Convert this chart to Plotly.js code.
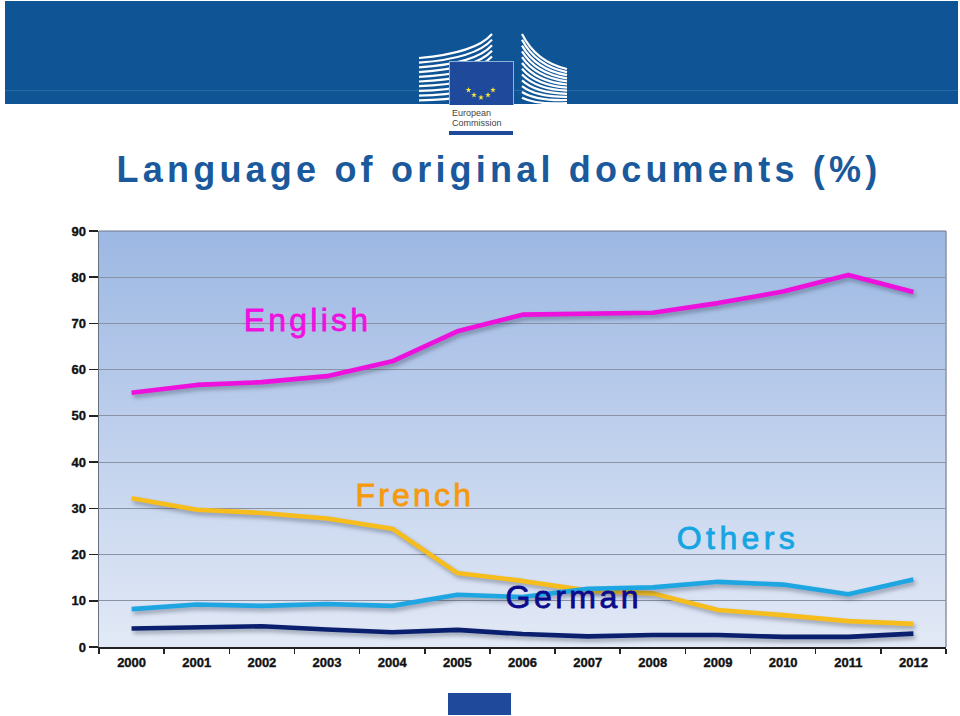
<!DOCTYPE html>
<html><head><meta charset="utf-8">
<script src="https://cdn.plot.ly/plotly-3.0.1.min.js"></script>
<style>html,body{margin:0;padding:0;background:#fff}#c{width:960px;height:716px}
.xtick text,.ytick text{stroke:#111;stroke-width:.35px}</style>
</head><body><div id="c"></div>
<script>
const years=['2000','2001','2002','2003','2004','2005','2006','2007','2008','2009','2010','2011','2012'];
const english=[55,56.7,57.3,58.6,61.8,68.3,71.9,72.2,72.3,74.4,76.9,80.5,76.8];
const french=[32.2,29.7,29,27.8,25.6,16,14.3,12.2,11.6,8,6.9,5.6,5];
const others=[8.2,9.2,8.9,9.3,8.9,11.3,10.8,12.6,12.9,14.1,13.5,11.4,14.6];
const german=[4,4.2,4.5,3.8,3.2,3.7,2.8,2.3,2.6,2.6,2.2,2.2,2.9];
const yTicks=[0,10,20,30,40,50,60,70,80,90];
const titleText='Language of original documents (%)';
const labels=[
 {text:'English',cx:307,cy:320,size:32,color:'#f010e0',sp:'3.2px'},
 {text:'French',cx:415,cy:495,size:32,color:'#f59a0c',sp:'3.2px'},
 {text:'Others',cx:738,cy:538,size:32,color:'#14a5e2',sp:'4.4px'},
 {text:'German',cx:574,cy:597,size:32,color:'#0a0a8c',sp:'3.5px'}
];
const L=99,R=946,T=231,B=647;
const px=x=>(x-L)/(R-L), py=y=>(B-y)/(B-T);
function rect(x0,y0,x1,y1,fill,layer){return {type:'rect',xref:'paper',yref:'paper',x0:px(x0),x1:px(x1),y0:py(y0),y1:py(y1),fillcolor:fill,line:{width:0},layer:layer||'below'};}
function curve(x0,y0,cx,cy,x1,y1,w){return {type:'path',xref:'paper',yref:'paper',layer:'below',
  path:`M ${px(x0)} ${py(y0)} Q ${px(cx)} ${py(cy)} ${px(x1)} ${py(y1)}`,line:{color:'#fff',width:w},fillcolor:'rgba(0,0,0,0)'};}
function star(cx,cy,r){let d='';for(let i=0;i<10;i++){const a=-Math.PI/2+i*Math.PI/5,q=i%2?r*0.4:r;
  d+=(i?'L ':'M ')+px(cx+q*Math.cos(a))+' '+py(cy+q*Math.sin(a))+' ';}
  return {type:'path',xref:'paper',yref:'paper',layer:'below',path:d+'Z',fillcolor:'#f4e23a',line:{width:0}};}
const shapes=[];
// header
shapes.push(rect(5,1,958,104,'#0f5596'));
shapes.push(rect(5,90,958,91,'#2a6aa3'));
// left building
for(let i=0;i<10;i++){
  const yl=58+i*4.7, yr=34+i*5.6;
  shapes.push(curve(419,yl,476,yl-5+i*0.5,492,yr,2.2));
}
// right building
for(let i=0;i<12;i++){
  const yr=69+i*3.1, yl=34+i*5.8;
  shapes.push(curve(522,yl,536,yl+28-i*1.9,567,yr,2.2));
}
shapes.push(rect(419,104,492,105,'#fff'));
// flag
shapes.push(rect(449,61,514,105,'#8fb2d6'));
shapes.push(rect(450,62,513,105,'#1f4a9c'));
[[468.5,90],[474,95],[481,97.5],[488,95],[493,90]].forEach(s=>shapes.push(star(s[0],s[1],3)));
shapes.push(rect(449,131,513,135,'#1f4a9c'));
shapes.push(rect(448,693,511,715,'#1f4a9c'));
// plot background gradient
const top_=[157,184,227], bot=[226,233,246], n=52;
for(let i=0;i<n;i++){
  const t=i/(n-1), c=top_.map((v,k)=>Math.round(v+(bot[k]-v)*t));
  const a=T+(B-T)*i/n, b=T+(B-T)*(i+1)/n+0.5;
  shapes.push(rect(L,a,R,b,`rgb(${c})`));
}
const line=(y,c)=>({x:years,y,type:'scatter',mode:'lines',line:{color:c,width:4.6,shape:'linear'},hoverinfo:'skip'});
const data=[line(english,'#ee10dc'),line(french,'#f6bd1c'),line(others,'#1ea6e2'),line(german,'#0a1f6e')];
const annotations=[
 {text:titleText,xref:'paper',yref:'paper',x:px(499),y:py(169),xanchor:'center',yanchor:'middle',showarrow:false,
  font:{family:'Liberation Sans',size:36,color:'#1a5a9c',weight:700}},
 {text:'European',xref:'paper',yref:'paper',x:px(450),y:py(113),xanchor:'left',yanchor:'middle',showarrow:false,font:{family:'Liberation Sans',size:9,color:'#444'}},
 {text:'Commission',xref:'paper',yref:'paper',x:px(450),y:py(123),xanchor:'left',yanchor:'middle',showarrow:false,font:{family:'Liberation Sans',size:9,color:'#444'}}
];
labels.forEach(l=>annotations.push({text:l.text,xref:'paper',yref:'paper',x:px(l.cx),y:py(l.cy),xanchor:'center',yanchor:'middle',showarrow:false,font:{family:'Liberation Sans',size:l.size,color:l.color}}));
const layout={width:960,height:716,showlegend:false,paper_bgcolor:'#fff',plot_bgcolor:'rgba(0,0,0,0)',
 margin:{l:L,r:960-R,t:T,b:716-B,pad:0},shapes,annotations,
 font:{family:'Liberation Sans',size:13,color:'#111'},
 xaxis:{type:'category',range:[-0.5,12.5],tickmode:'array',tickvals:years,ticktext:years,tickson:'boundaries',ticks:'outside',ticklen:5,tickwidth:1.5,tickcolor:'#222',ticklabelstandoff:2,
   showline:true,linecolor:'#222',linewidth:2,showgrid:false,tickfont:{family:'Liberation Sans',size:13,color:'#111',weight:700},automargin:false},
 yaxis:{range:[0,90],tickmode:'array',tickvals:yTicks,ticks:'outside',ticklen:9,tickwidth:1.5,tickcolor:'#222',
   showline:true,linecolor:'#66707f',linewidth:1.5,showgrid:true,gridcolor:'#8a93a3',gridwidth:1,zeroline:false,mirror:false,
   tickfont:{family:'Liberation Sans',size:13,color:'#111',weight:700},automargin:false}
};
// frame lines on right and top
shapes.push({type:'line',xref:'paper',yref:'paper',x0:1,x1:1,y0:0,y1:1,line:{color:'#8a93a3',width:1.5},layer:'above'});
shapes.push({type:'line',xref:'paper',yref:'paper',x0:0,x1:1,y0:1,y1:1,line:{color:'#6f7a8c',width:1.2},layer:'above'});
Plotly.newPlot('c',data,layout,{displayModeBar:false,staticPlot:true}).then(()=>{
  document.querySelectorAll('.annotation-text').forEach(t=>{
    const s=t.textContent, l=labels.find(l=>l.text===s);
    if(s===titleText) t.style.letterSpacing='4.2px';
    else if(l){t.style.letterSpacing=l.sp;t.style.stroke=l.color;t.style.strokeWidth='0.8px';}
  });
  document.querySelectorAll('.scatterlayer .js-line').forEach(p=>{p.style.filter='drop-shadow(2px 3px 2px rgba(40,50,70,.4))';p.style.strokeLinejoin='round';});
});
</script></body></html>
